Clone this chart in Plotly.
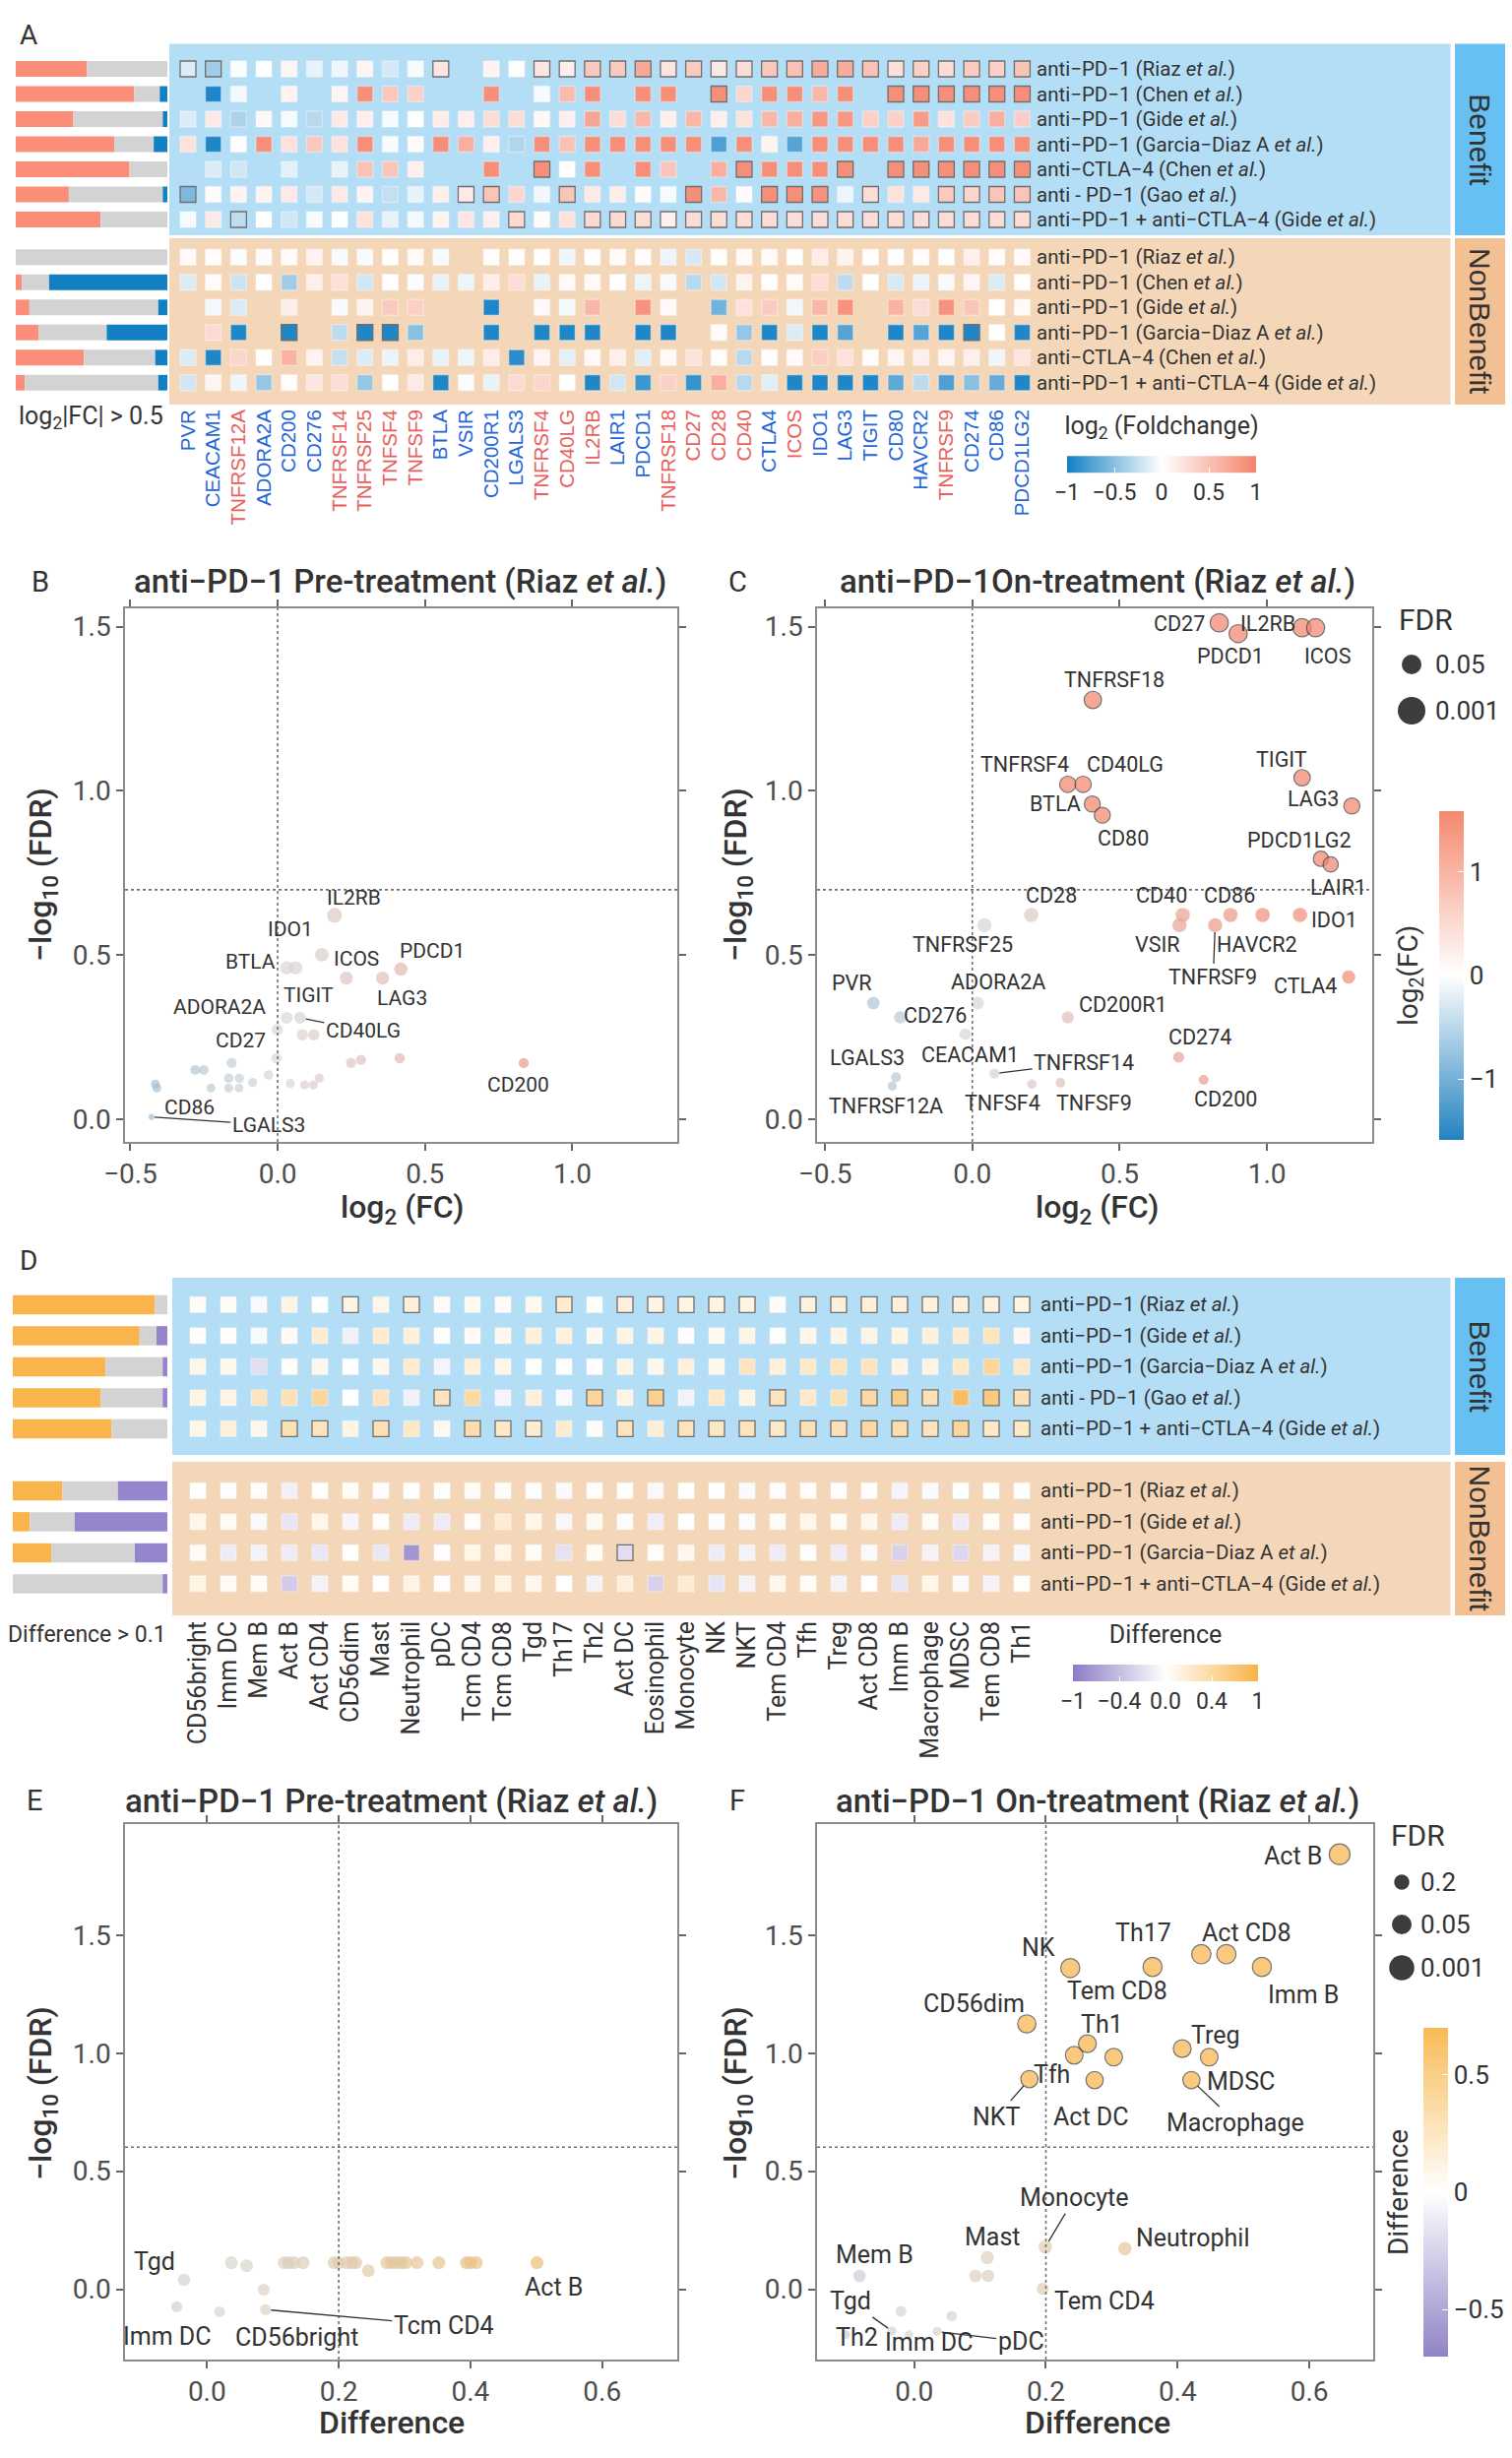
import numpy as np
import plotly.graph_objects as go

W, H = 1536, 2497
FONT = "Roboto"
INK = "#333333"
nan = float("nan")

# --------------------------------------------------
# Data : panel A (checkpoint genes, log2 fold change)
# --------------------------------------------------

genes = ["PVR", "CEACAM1", "TNFRSF12A", "ADORA2A", "CD200", "CD276", "TNFRSF14",
         "TNFRSF25", "TNFSF4", "TNFSF9", "BTLA", "VSIR", "CD200R1", "LGALS3",
         "TNFRSF4", "CD40LG", "IL2RB", "LAIR1", "PDCD1", "TNFRSF18", "CD27", "CD28",
         "CD40", "CTLA4", "ICOS", "IDO1", "LAG3", "TIGIT", "CD80", "HAVCR2",
         "TNFRSF9", "CD274", "CD86", "PDCD1LG2"]
stim_genes = ["TNFRSF12A", "TNFRSF14", "TNFRSF25", "TNFSF4", "TNFSF9", "TNFRSF4",
              "CD40LG", "IL2RB", "TNFRSF18", "CD27", "CD28", "CD40", "ICOS", "TNFRSF9"]

a_cohorts_benefit = ["anti−PD−1 (Riaz <i>et al.</i>)", "anti−PD−1 (Chen <i>et al.</i>)",
                     "anti−PD−1 (Gide <i>et al.</i>)", "anti−PD−1 (Garcia−Diaz A <i>et al.</i>)",
                     "anti−CTLA−4 (Chen <i>et al.</i>)", "anti - PD−1 (Gao <i>et al.</i>)",
                     "anti−PD−1 + anti−CTLA−4 (Gide <i>et al.</i>)"]
a_cohorts_nonbenefit = ["anti−PD−1 (Riaz <i>et al.</i>)", "anti−PD−1 (Chen <i>et al.</i>)",
                        "anti−PD−1 (Gide <i>et al.</i>)", "anti−PD−1 (Garcia−Diaz A <i>et al.</i>)",
                        "anti−CTLA−4 (Chen <i>et al.</i>)",
                        "anti−PD−1 + anti−CTLA−4 (Gide <i>et al.</i>)"]

a_fc_benefit = [
    [-0.15, -0.4, -0.02, 0.0, 0.08, -0.1, -0.07, 0.08, -0.18, -0.03, 0.2, nan, 0.1, 0.02, 0.2, 0.13, 0.45,
     0.43, 0.7, 0.22, 0.42, 0.18, 0.28, 0.45, 0.5, 0.68, 0.68, 0.5, 0.26, 0.38, 0.28, 0.42, 0.38, 0.48],
    [nan, -0.95, -0.05, nan, 0.1, nan, 0.08, 0.9, 0.45, 0.38, nan, nan, 0.9, nan, -0.03, 0.55, 0.9,
     nan, 0.9, 0.9, nan, 0.9, 0.33, 0.9, 0.9, 0.58, 0.9, nan, 0.9, 0.9, 0.9, 0.9, 0.9, 0.9],
    [-0.15, 0.17, -0.35, 0.06, -0.04, -0.3, 0.17, 0.13, -0.03, 0.01, 0.15, 0.13, 0.28, 0.28, 0.06, 0.13, 0.72,
     0.28, 0.58, 0.13, 0.58, 0.13, 0.24, 0.58, 0.65, 0.85, 0.85, 0.38, 0.38, 0.8, 0.24, 0.42, 0.65, 0.4],
    [0.24, -0.95, 0.02, 0.9, 0.24, 0.45, 0.24, 0.9, -0.03, 0.04, 0.9, 0.65, 0.13, -0.33, 0.9, 0.5, 0.9,
     0.9, 0.9, 0.9, 0.9, -0.75, 0.9, 0.1, -0.72, 0.9, 0.9, 0.9, 0.9, 0.7, 0.9, 0.9, 0.9, 0.9],
    [nan, -0.15, -0.2, nan, -0.12, nan, -0.1, 0.5, 0.47, 0.13, nan, nan, 0.9, nan, 0.9, 0.0, 0.9,
     nan, 0.9, 0.47, nan, 0.65, 0.9, 0.9, 0.9, 0.9, 0.9, nan, 0.9, 0.9, 0.9, 0.9, 0.9, 0.9],
    [-0.55, 0.03, 0.1, 0.1, 0.17, -0.18, 0.17, 0.1, -0.25, -0.1, 0.13, 0.17, 0.47, 0.33, -0.06, 0.47, 0.17,
     0.15, 0.03, -0.04, 0.9, 0.58, 0.03, 0.9, 0.9, 0.88, -0.07, 0.28, 0.24, 0.17, 0.43, 0.33, 0.47, 0.47],
    [-0.04, 0.17, -0.27, 0.0, -0.2, -0.03, 0.01, 0.24, -0.1, -0.05, 0.1, 0.2, 0.13, 0.3, 0.03, 0.24, 0.3,
     0.3, 0.28, 0.13, 0.28, 0.28, 0.28, 0.28, 0.28, 0.28, 0.28, 0.28, 0.28, 0.28, 0.28, 0.28, 0.28, 0.28],
]
a_fc_nonbenefit = [
    [0.05, 0.02, -0.02, -0.02, 0.03, 0.1, -0.03, -0.03, 0.01, 0.05, -0.03, nan, 0.02, 0.02, 0.0, -0.07,
     0.01, 0.03, 0.02, -0.08, -0.18, 0.01, 0.04, 0.05, 0.0, 0.15, 0.1, 0.01, 0.01, 0.02, 0.01, 0.13, 0.02, 0.04],
    [-0.15, 0.03, -0.22, 0.0, -0.4, 0.13, 0.26, -0.2, 0.0, -0.02, -0.1, -0.08, 0.14, 0.28, -0.1, 0.04,
     0.04, 0.0, -0.08, -0.04, -0.3, -0.2, 0.1, 0.0, 0.05, 0.28, -0.28, 0.0, -0.17, -0.09, -0.03, 0.08, -0.15, 0.0],
    [nan, -0.05, -0.15, nan, 0.14, nan, -0.03, 0.1, 0.43, 0.38, nan, nan, -0.95, nan, 0.04, -0.05, 0.58,
     nan, 0.88, 0.05, nan, -0.6, 0.24, 0.42, -0.06, 0.58, 0.88, nan, 0.62, 0.28, 0.88, 0.47, 0.0, 0.05],
    [nan, 0.3, -0.95, nan, -0.95, nan, -0.28, -0.95, -0.95, -0.5, nan, nan, -0.95, nan, -0.95, -0.95, -0.95,
     nan, -0.95, -0.95, nan, 0.04, -0.45, -0.95, -0.15, -0.95, -0.72, nan, -0.95, -0.72, -0.95, -0.95, 0.0, -0.95],
    [-0.15, -0.95, 0.33, 0.0, 0.62, 0.1, -0.25, -0.15, -0.09, 0.15, -0.1, -0.08, 0.15, -0.9, 0.08, -0.12, 0.04,
     0.13, -0.13, 0.04, 0.24, 0.02, -0.3, 0.01, 0.04, 0.4, 0.24, 0.02, 0.08, 0.13, 0.08, 0.13, -0.07, 0.22],
    [-0.2, 0.08, -0.07, -0.45, 0.02, 0.2, 0.28, -0.45, 0.0, 0.17, -0.95, -0.02, -0.1, 0.3, 0.33, 0.0, -0.95,
     -0.2, -0.82, 0.38, -0.85, 0.65, -0.3, -0.13, -0.95, -0.95, -0.95, -0.95, -0.68, -0.28, -0.75, -0.5, -0.65, -0.95],
]
# significant cells (1-based gene columns, drawn with a border)
a_sig_benefit = [[1, 2, 11] + list(range(15, 35)), [22] + list(range(29, 35)), [], [],
                 [15, 23, 27] + list(range(29, 35)),
                 [1, 12, 13, 16, 21, 24, 25, 26, 28, 31, 32, 33, 34], [3, 14] + list(range(17, 35))]
a_sig_nonbenefit = [[], [], [], [5, 8, 9, 32], [], []]

# share of genes with log2|FC| > 0.5 (up / down)
a_up_benefit = [0.47, 0.78, 0.38, 0.65, 0.75, 0.35, 0.56]
a_down_benefit = [0.0, 0.05, 0.03, 0.09, 0.0, 0.03, 0.0]
a_up_nonbenefit = [0.0, 0.04, 0.09, 0.15, 0.45, 0.06]
a_down_nonbenefit = [0.0, 0.78, 0.06, 0.40, 0.08, 0.06]

# --------------------------------------------------
# Data : panels B / C (volcano, genes)
# --------------------------------------------------

b_genes = ["IL2RB", "ICOS", "BTLA", "IDO1", "TNFRSF18", "LAG3", "PDCD1", "TIGIT", "CD40LG",
           "ADORA2A", "CD28", "CTLA4", "CD27", "CD40", "TNFRSF4", "TNFRSF9", "HAVCR2", "CD200",
           "PVR", "CD276", "CEACAM1", "TNFRSF12A", "VSIR", "CD200R1", "TNFRSF14", "TNFSF4",
           "TNFSF9", "LAIR1", "CD274", "CD86", "CD80", "PDCD1LG2", "TNFRSF25", "LGALS3"]
b_fc = [0.193, 0.15, 0.031, 0.061, 0.233, 0.356, 0.418, 0.031, 0.076, -0.001, 0.084, 0.123,
        -0.156, -0.004, 0.249, 0.283, 0.414, 0.835, -0.28, -0.251, -0.166, -0.13, -0.085,
        -0.031, 0.141, 0.043, 0.091, 0.121, -0.415, -0.41, -0.226, -0.166, -0.131, -0.428]
b_logfdr = [0.621, 0.501, 0.461, 0.461, 0.43, 0.43, 0.457, 0.309, 0.309, 0.273, 0.257, 0.257,
            0.172, 0.186, 0.172, 0.181, 0.186, 0.171, 0.15, 0.15, 0.125, 0.125, 0.112, 0.135,
            0.125, 0.109, 0.104, 0.104, 0.107, 0.095, 0.095, 0.095, 0.095, 0.007]

c_genes = ["CD27", "PDCD1", "IL2RB", "ICOS", "TNFRSF18", "TNFRSF4", "CD40LG", "BTLA", "CD80",
           "TIGIT", "LAG3", "PDCD1LG2", "LAIR1", "CD28", "TNFRSF25", "CD40", "VSIR", "TNFRSF9",
           "CD86", "HAVCR2", "IDO1", "CTLA4", "PVR", "CD276", "ADORA2A", "CD200R1", "CEACAM1",
           "CD274", "TNFRSF14", "LGALS3", "TNFRSF12A", "TNFSF4", "TNFSF9", "CD200"]
c_fc = [0.838, 0.902, 1.119, 1.165, 0.409, 0.324, 0.376, 0.407, 0.441, 1.119, 1.288, 1.183,
        1.216, 0.2, 0.041, 0.714, 0.703, 0.824, 0.876, 0.985, 1.112, 1.277, -0.336, -0.245,
        0.018, 0.324, -0.024, 0.7, 0.075, -0.259, -0.272, 0.202, 0.299, 0.785]
c_logfdr = [1.512, 1.479, 1.497, 1.497, 1.277, 1.02, 1.02, 0.96, 0.926, 1.04, 0.954, 0.793,
            0.776, 0.622, 0.591, 0.622, 0.591, 0.591, 0.622, 0.622, 0.622, 0.433, 0.354, 0.31,
            0.354, 0.31, 0.259, 0.189, 0.139, 0.128, 0.101, 0.107, 0.111, 0.12]

# --------------------------------------------------
# Data : panel D (immune cell types, difference)
# --------------------------------------------------

cells = ["CD56bright", "Imm DC", "Mem B", "Act B", "Act CD4", "CD56dim", "Mast", "Neutrophil",
         "pDC", "Tcm CD4", "Tcm CD8", "Tgd", "Th17", "Th2", "Act DC", "Eosinophil", "Monocyte",
         "NK", "NKT", "Tem CD4", "Tfh", "Treg", "Act CD8", "Imm B", "Macrophage", "MDSC",
         "Tem CD8", "Th1"]
d_cohorts_benefit = ["anti−PD−1 (Riaz <i>et al.</i>)", "anti−PD−1 (Gide <i>et al.</i>)",
                     "anti−PD−1 (Garcia−Diaz A <i>et al.</i>)", "anti - PD−1 (Gao <i>et al.</i>)",
                     "anti−PD−1 + anti−CTLA−4 (Gide <i>et al.</i>)"]
d_cohorts_nonbenefit = ["anti−PD−1 (Riaz <i>et al.</i>)", "anti−PD−1 (Gide <i>et al.</i>)",
                        "anti−PD−1 (Garcia−Diaz A <i>et al.</i>)",
                        "anti−PD−1 + anti−CTLA−4 (Gide <i>et al.</i>)"]
d_diff_benefit = [
    [0.05, 0.05, -0.05, 0.15, 0.0, 0.15, 0.12, 0.2, 0.05, 0.08, 0.05, 0.08, 0.25, 0.02, 0.2, 0.15,
     0.15, 0.15, 0.15, 0.05, 0.18, 0.2, 0.2, 0.2, 0.2, 0.2, 0.18, 0.15],
    [0.03, 0.02, -0.05, 0.07, 0.25, -0.12, 0.25, 0.2, 0.03, 0.06, 0.1, 0.2, 0.18, 0.1, 0.15, 0.15,
     0.02, 0.08, 0.15, 0.02, 0.12, 0.15, 0.15, 0.15, 0.2, 0.25, 0.35, 0.1],
    [0.12, 0.1, -0.25, 0.03, 0.1, 0.0, 0.1, 0.25, -0.08, 0.2, 0.12, 0.01, 0.03, 0.01, 0.15, 0.1,
     0.2, 0.1, 0.35, 0.2, 0.3, 0.35, 0.35, 0.15, 0.15, 0.3, 0.55, 0.3],
    [0.15, 0.15, 0.35, 0.4, 0.55, 0.0, 0.35, -0.12, 0.35, 0.5, -0.08, 0.2, -0.05, 0.55, 0.15, 0.6,
     -0.1, 0.3, 0.15, 0.35, 0.3, 0.4, 0.5, 0.65, 0.4, 0.85, 0.7, 0.4],
    [0.12, 0.2, 0.1, 0.4, 0.35, 0.15, 0.4, 0.3, 0.08, 0.45, 0.3, 0.25, 0.25, 0.05, 0.35, 0.22,
     0.35, 0.3, 0.35, 0.3, 0.4, 0.4, 0.5, 0.45, 0.35, 0.55, 0.3, 0.3],
]
d_diff_nonbenefit = [
    [0.0, -0.02, 0.02, -0.12, 0.0, 0.04, -0.02, 0.0, -0.01, 0.04, 0.04, -0.02, -0.04, 0.02, -0.01, -0.05,
     0.0, 0.0, -0.04, -0.02, 0.03, -0.01, -0.01, -0.08, -0.04, 0.0, 0.0, -0.01],
    [0.12, 0.07, -0.05, -0.2, 0.12, -0.08, 0.02, -0.15, -0.15, 0.03, 0.25, 0.12, -0.07, 0.08, -0.03, -0.14,
     0.0, -0.03, -0.03, 0.05, 0.12, 0.05, 0.1, -0.15, 0.05, -0.15, 0.03, 0.02],
    [0.05, -0.15, -0.1, -0.15, -0.18, 0.0, -0.18, -0.8, 0.0, 0.12, 0.12, 0.05, -0.22, 0.04, -0.25, 0.03,
     0.1, -0.15, -0.1, -0.15, -0.02, -0.15, -0.05, -0.35, -0.1, -0.3, -0.1, -0.07],
    [0.15, 0.06, 0.04, -0.4, -0.1, 0.05, 0.0, 0.15, 0.02, 0.1, 0.15, 0.1, 0.0, -0.1, 0.2, -0.35,
     0.25, -0.2, -0.1, 0.1, 0.04, -0.1, 0.0, -0.2, 0.12, -0.04, -0.1, 0.02],
]
d_sig_benefit = [[6, 8, 13, 15, 16, 17, 18, 19] + list(range(21, 29)), [], [],
                 [9, 14, 16, 20, 23, 24, 25, 27, 28], [4, 5, 7, 10, 11, 12, 15] + list(range(17, 29))]
d_sig_nonbenefit = [[], [], [15], []]

# share of cell types with difference > 0.1 (up / down)
d_up_benefit = [0.92, 0.82, 0.6, 0.57, 0.64]
d_down_benefit = [0.0, 0.07, 0.03, 0.03, 0.0]
d_up_nonbenefit = [0.32, 0.11, 0.25, 0.0]
d_down_nonbenefit = [0.32, 0.6, 0.21, 0.03]

# --------------------------------------------------
# Data : panels E / F (volcano, cell types)
# --------------------------------------------------

e_cells = ["Act B", "Tgd", "Imm DC", "CD56bright", "Tcm CD4", "Mem B", "Th2", "pDC", "Mast",
           "Eosinophil", "Tcm CD8", "Neutrophil", "CD56dim", "NKT", "Monocyte", "Tem CD4", "Act DC",
           "Tfh", "NK", "Th1", "Treg", "Act CD4", "Th17", "Tem CD8", "Macrophage", "MDSC", "Imm B",
           "Act CD8"]
e_diff = [0.501, -0.035, -0.046, 0.019, 0.089, 0.037, 0.06, 0.086, 0.117, 0.124, 0.132, 0.146,
          0.193, 0.2, 0.212, 0.22, 0.226, 0.245, 0.273, 0.28, 0.287, 0.295, 0.302, 0.319, 0.352,
          0.394, 0.4, 0.409]
e_logfdr = [0.113, 0.04, -0.074, -0.095, -0.086, 0.113, 0.1, -0.002, 0.113, 0.113, 0.113, 0.113,
            0.113, 0.113, 0.113, 0.113, 0.113, 0.079, 0.113, 0.113, 0.113, 0.113, 0.113, 0.113,
            0.113, 0.113, 0.113, 0.113]

f_cells = ["Act B", "NK", "Tem CD8", "Th17", "Act CD8", "Imm B", "CD56dim", "Th1", "Tfh", "Act CD4",
           "Treg", "MDSC", "NKT", "Act DC", "Macrophage", "Monocyte", "Neutrophil", "Mast",
           "Tcm CD4", "Tcm CD8", "Mem B", "Tem CD4", "CD56bright", "Eosinophil", "Tgd", "Th2",
           "Imm DC", "pDC"]
f_diff = [0.646, 0.237, 0.362, 0.436, 0.474, 0.528, 0.171, 0.263, 0.243, 0.303, 0.407, 0.448,
          0.175, 0.274, 0.421, 0.199, 0.32, 0.111, 0.093, 0.112, -0.083, 0.195, -0.02, 0.057,
          -0.034, -0.104, -0.008, 0.035]
f_logfdr = [1.842, 1.36, 1.365, 1.419, 1.419, 1.365, 1.124, 1.04, 0.991, 0.983, 1.019, 0.983,
            0.89, 0.886, 0.886, 0.179, 0.172, 0.134, 0.057, 0.057, 0.057, 0.002, -0.093, -0.113,
            -0.176, -0.192, -0.192, -0.179]

# label placement: name -> (dx px, dy px, leader line)
b_labels = {"IL2RB": (20, -18, False), "IDO1": (-5, -39, False), "BTLA": (-37, -6, False),
            "ICOS": (35, 4, False), "PDCD1": (32, -19, False), "TIGIT": (22, -23, False),
            "LAG3": (20, 20, False), "ADORA2A": (-59, -23, False), "CD40LG": (64, 13, True),
            "CD27": (9, -23, False), "CD200": (-6, 22, False), "CD86": (33, 20, False),
            "LGALS3": (119, 8, True)}
c_labels = {"CD27": (-41, 1, False), "IL2RB": (-35, -4, False), "PDCD1": (-8, 23, False),
            "ICOS": (12, 29, False), "TNFRSF18": (22, -21, False), "TNFRSF4": (-44, -20, False),
            "CD40LG": (43, -20, False), "BTLA": (-38, 0, False), "CD80": (21, 23, False),
            "TIGIT": (-21, -19, False), "LAG3": (-39, -7, False), "PDCD1LG2": (-22, -19, False),
            "LAIR1": (8, 23, False), "CD28": (20, -20, False), "TNFRSF25": (-22, 20, False),
            "CD40": (-22, -20, False), "VSIR": (-22, 20, False), "CD86": (-1, -20, False),
            "HAVCR2": (-6, 30, False), "IDO1": (35, 5, False), "TNFRSF9": (-2, 53, True),
            "CTLA4": (-44, 9, False), "PVR": (-22, -20, False), "CD276": (36, -2, False),
            "ADORA2A": (21, -21, False), "CD200R1": (56, -13, False), "CEACAM1": (5, 21, False),
            "CD274": (22, -20, False), "TNFRSF14": (91, -11, True), "LGALS3": (-29, -20, False),
            "TNFRSF12A": (-6, 20, False), "TNFSF4": (-30, 19, False), "TNFSF9": (34, 21, False),
            "CD200": (22, 20, False)}
e_labels = {"Tgd": (-30, -19, False), "Act B": (17, 25, False), "Imm DC": (-10, 30, False),
            "CD56bright": (78, 26, False), "Tcm CD4": (181, 16, True)}
f_labels = {"Act B": (-47, 2, False), "NK": (-32, -21, False), "Th17": (-59, -22, False),
            "Act CD8": (21, -22, False), "Imm B": (42, 28, False), "Tem CD8": (-36, 24, False),
            "CD56dim": (-54, -20, False), "Th1": (15, -20, False), "Tfh": (-23, 20, False),
            "NKT": (-33, 38, True), "Act DC": (-4, 37, False), "Treg": (34, -14, False),
            "MDSC": (32, 25, False), "Macrophage": (45, 43, True), "Monocyte": (30, -50, True),
            "Neutrophil": (69, -11, False), "Mast": (6, -21, False), "Mem B": (15, -21, False),
            "Tem CD4": (63, 12, False), "Tgd": (-42, -30, True), "Th2": (11, 3, False),
            "Imm DC": (21, 8, False), "pDC": (85, 10, True)}

# --------------------------------------------------
# Colours
# --------------------------------------------------

FC_SCALE = [[0, "#1380c4"], [0.5, "#ffffff"], [1, "#f5836b"]]
FC_BAR = [[0, "#2482c0"], [0.5, "#ffffff"], [1, "#f5896f"]]
FC_MUTED = [[0, "#5d9bc6"], [0.5, "#d8d8d8"], [1, "#ee8c78"]]
DIFF_SCALE = [[0, "#8c7bc6"], [0.5, "#ffffff"], [1, "#f8b348"]]
DIFF_BAR = [[0, "#9183c6"], [0.5, "#ffffff"], [1, "#f8bb55"]]
DIFF_MUTED = [[0, "#9a8ccc"], [0.5, "#d6d6d6"], [1, "#f6b34c"]]
BLUE_BG, BLUE_STRIP = "#b3def6", "#66c0f1"
PEACH_BG, PEACH_STRIP = "#f4d6b8", "#f2c092"


def px(x, y):
    return x / W, 1 - y / H


fig = go.Figure()
layout_axes = {}
shapes = []
anns = []


def add_axes(n, x0, x1, y0, y1, xr, yr, xkw=None, ykw=None):
    s = "" if n == 1 else str(n)
    layout_axes["xaxis" + s] = dict(domain=[x0 / W, x1 / W], range=xr, anchor="y" + s, **(xkw or {}))
    layout_axes["yaxis" + s] = dict(domain=[1 - y1 / H, 1 - y0 / H], range=yr, anchor="x" + s, **(ykw or {}))


def text(x, y, t, size, color=INK, angle=0, anchor="center", family=FONT, weight=None):
    fx, fy = px(x, y)
    f = dict(family=family, size=size, color=color)
    if weight:
        f["weight"] = weight
    anns.append(dict(x=fx, y=fy, xref="paper", yref="paper", text=t, showarrow=False,
                     textangle=angle, xanchor=anchor, yanchor="middle", font=f))


def rect(x0, y0, x1, y1, color):
    a, b = px(x0, y0)
    c, d = px(x1, y1)
    shapes.append(dict(type="rect", xref="paper", yref="paper", x0=a, y0=d, x1=c, y1=b,
                       fillcolor=color, line=dict(width=0), layer="below"))


def dot(cx, cy, d):
    a, b = px(cx, cy)
    shapes.append(dict(type="circle", xref="paper", yref="paper", xsizemode="pixel",
                       ysizemode="pixel", xanchor=a, yanchor=b, x0=-d / 2, x1=d / 2,
                       y0=-d / 2, y1=d / 2, fillcolor="#3d3d3d", line=dict(width=0)))


HIDDEN = dict(visible=False)


# --------------------------------------------------
# Heatmap blocks (A and D)
# --------------------------------------------------

def heat_block(n_bar, n_heat, values, sig, units, labels, scale, bar_up, bar_down,
               bar_cols, row_x, colorbar):
    xs, ys, cs, lc = [], [], [], []
    for r, row in enumerate(values):
        for c, v in enumerate(row):
            if np.isnan(v):
                continue
            xs.append(c)
            ys.append(units[r])
            cs.append(v)
            lc.append("#6f6f6f" if (c + 1) in sig[r] else "rgba(255,255,255,0.35)")
    xa, ya = "x" + str(n_heat), "y" + str(n_heat)
    fig.add_trace(go.Scatter(
        x=xs, y=ys, mode="markers", xaxis=xa, yaxis=ya, hoverinfo="skip", showlegend=False,
        marker=dict(symbol="square", size=16, color=cs, colorscale=scale, cmin=-1, cmax=1,
                    line=dict(color=lc, width=1.3), showscale=True, colorbar=colorbar)))
    for u, lab in zip(units, labels):
        anns.append(dict(x=row_x, y=u, xref=xa, yref=ya, text=lab, showarrow=False,
                         xanchor="left", yanchor="middle",
                         font=dict(family=FONT, size=20.5, color=INK)))
    # proportion bars
    rest = [1 - a - b for a, b in zip(bar_up, bar_down)]
    xb, yb = "x" + str(n_bar), "y" + str(n_bar)
    for widths, base, col in [(bar_up, [0] * len(units), bar_cols[0]),
                              (rest, bar_up, bar_cols[1]),
                              (bar_down, [1 - d for d in bar_down], bar_cols[2])]:
        fig.add_trace(go.Bar(x=widths, y=units, base=base, orientation="h", width=0.62,
                             marker=dict(color=col, line=dict(width=0)), xaxis=xb, yaxis=yb,
                             hoverinfo="skip", showlegend=False))


def col_ticks(names, colors, family, size, color=INK):
    ticktext = [f'<span style="color:{c}">{n}</span>' for n, c in zip(names, colors)]
    return dict(showgrid=False, zeroline=False, showline=False, ticks="", tickmode="array",
                tickvals=list(range(len(names))), ticktext=ticktext, tickangle=-90,
                tickfont=dict(family=family, size=size, color=color), fixedrange=True)


# ---- Panel A ----
a_units = list(range(7)) + [7.5 + i for i in range(6)]
a_yr = [(411 - 70) / 25.5, (44.6 - 70) / 25.5]
a_xr = [(172 - 191) / 25.68, (1529 - 191) / 25.68]
gene_colors = ["#e8605c" if g in stim_genes else "#2466d8" for g in genes]
add_axes(1, 16, 170, 44.6, 411, [0, 1], a_yr, HIDDEN, HIDDEN)
add_axes(2, 172, 1529, 44.6, 411, a_xr, a_yr,
         col_ticks(genes, gene_colors, "Liberation Sans", 20.5), HIDDEN)
rect(172, 44.6, 1473.5, 239, BLUE_BG)
rect(1478, 44.6, 1529, 239, BLUE_STRIP)
rect(172, 242, 1473.5, 411, PEACH_BG)
rect(1478, 242, 1529, 411, PEACH_STRIP)
cx, cy = px(1180, 431)
heat_block(1, 2, a_fc_benefit + a_fc_nonbenefit, a_sig_benefit + a_sig_nonbenefit, a_units,
           a_cohorts_benefit + a_cohorts_nonbenefit, FC_SCALE,
           a_up_benefit + a_up_nonbenefit, a_down_benefit + a_down_nonbenefit,
           ["#fa8e78", "#d3d3d3", "#1380c4"], (1051 - 191) / 25.68,
           dict(orientation="h", x=cx, xanchor="center", y=cy, yanchor="top", len=192,
                lenmode="pixels", thickness=17, xpad=0, ypad=0, outlinewidth=0,
                title=dict(text="log<sub>2</sub> (Foldchange)", side="top",
                           font=dict(family=FONT, size=25, color=INK)),
                tickvals=[-1, -0.5, 0, 0.5, 1], ticktext=["−1", "−0.5", "0", "0.5", "1"],
                ticks="inside", ticklen=5, tickcolor="white",
                tickfont=dict(family=FONT, size=23, color=INK)))
text(1503.5, 141.8, "Benefit", 30, angle=90, family="Liberation Sans")
text(1503.5, 326.5, "NonBenefit", 30, angle=90, family="Liberation Sans")
text(92, 424, "log<sub>2</sub>|FC| > 0.5", 25)
text(29, 36, "A", 28)

# ---- Panel D ----
d_units = list(range(5)) + [6 + i for i in range(4)]
d_yr = [(1641 - 1325.4) / 31.5, (1298 - 1325.4) / 31.5]
d_xr = [(175 - 201) / 31.0, (1529 - 201) / 31.0]
add_axes(5, 13, 170, 1298, 1641, [0, 1], d_yr, HIDDEN, HIDDEN)
add_axes(6, 175, 1529, 1298, 1641, d_xr, d_yr,
         col_ticks(cells, [INK] * len(cells), FONT, 25), HIDDEN)
rect(175, 1298, 1473.5, 1478, BLUE_BG)
rect(1478, 1298, 1529, 1478, BLUE_STRIP)
rect(175, 1485, 1473.5, 1641, PEACH_BG)
rect(1478, 1485, 1529, 1641, PEACH_STRIP)
cx, cy = px(1184, 1662)
heat_block(5, 6, d_diff_benefit + d_diff_nonbenefit, d_sig_benefit + d_sig_nonbenefit, d_units,
           d_cohorts_benefit + d_cohorts_nonbenefit, DIFF_SCALE,
           d_up_benefit + d_up_nonbenefit, d_down_benefit + d_down_nonbenefit,
           ["#f9b44b", "#d3d3d3", "#9585cc"], (1054.6 - 201) / 31.0,
           dict(orientation="h", x=cx, xanchor="center", y=cy, yanchor="top", len=188,
                lenmode="pixels", thickness=17, xpad=0, ypad=0, outlinewidth=0,
                title=dict(text="Difference", side="top",
                           font=dict(family=FONT, size=25, color=INK)),
                tickvals=[-1, -0.5, 0, 0.5, 1], ticktext=["−1", "−0.4", "0.0", "0.4", "1"],
                ticks="inside", ticklen=5, tickcolor="white",
                tickfont=dict(family=FONT, size=23, color=INK)))
text(1503.5, 1388, "Benefit", 30, angle=90, family="Liberation Sans")
text(1503.5, 1563, "NonBenefit", 30, angle=90, family="Liberation Sans")
text(88, 1660, "Difference > 0.1", 23)
text(29, 1280, "D", 28)


# --------------------------------------------------
# Volcano panels (B, C, E, F)
# --------------------------------------------------

def frame(tickvals, ticktext):
    return dict(showline=True, mirror="ticks", linecolor="#8c8c8c", linewidth=1.5,
                showgrid=False, zeroline=False, ticks="outside", ticklen=7, tickwidth=1.5,
                tickcolor="#666666", tickmode="array", tickvals=tickvals, ticktext=ticktext,
                tickfont=dict(family=FONT, size=28, color="#4d4d4d"), fixedrange=True)


def volcano(n, names, xv, yv, thr, muted, mrange, strong, size_of, labels, fsize, vline, hline):
    xa, ya = "x" + str(n), "y" + str(n)
    xv, yv = np.array(xv), np.array(yv)
    sizes = size_of(yv)
    sig = yv > thr
    fig.add_trace(go.Scatter(
        x=xv[~sig], y=yv[~sig], mode="markers", xaxis=xa, yaxis=ya, showlegend=False,
        text=[nm for nm, s in zip(names, sig) if not s], hoverinfo="text",
        marker=dict(size=sizes[~sig], color=xv[~sig], colorscale=muted, cmin=-mrange,
                    cmax=mrange, line=dict(width=0))))
    if sig.any():
        fig.add_trace(go.Scatter(
            x=xv[sig], y=yv[sig], mode="markers", xaxis=xa, yaxis=ya, showlegend=False,
            text=[nm for nm, s in zip(names, sig) if s], hoverinfo="text",
            marker=dict(size=sizes[sig], color=xv[sig], colorscale=strong, cmin=-0.15,
                        cmax=0.15, line=dict(color="#3a3a3a", width=1.2))))
    idx = {nm: i for i, nm in enumerate(names)}
    for nm, (dx, dy, lead) in labels.items():
        i = idx[nm]
        anns.append(dict(x=float(xv[i]), y=float(yv[i]), xref=xa, yref=ya, text=nm,
                         showarrow=True, ax=dx, ay=dy, arrowhead=0, arrowwidth=1.3,
                         arrowcolor=INK if lead else "rgba(0,0,0,0)",
                         standoff=float(sizes[i]) / 2 if lead else 0,
                         font=dict(family=FONT, size=fsize, color=INK)))
    line = dict(color="#707070", width=1.6, dash="dot")
    shapes.append(dict(type="line", xref=xa, yref=ya + " domain", x0=vline, x1=vline, y0=0, y1=1, line=line))
    shapes.append(dict(type="line", xref=xa + " domain", yref=ya, x0=0, x1=1, y0=hline, y1=hline, line=line))


bc_x = frame([-0.5, 0, 0.5, 1.0], ["−0.5", "0.0", "0.5", "1.0"])
bc_y = frame([0, 0.5, 1.0, 1.5], ["0.0", "0.5", "1.0", "1.5"])
ef_x = frame([0, 0.2, 0.4, 0.6], ["0.0", "0.2", "0.4", "0.6"])
ef_y = frame([0, 0.5, 1.0, 1.5], ["0.0", "0.5", "1.0", "1.5"])
bc_yr = [-0.069, 1.556]
ef_yr = [-0.2975, 1.97]

add_axes(3, 127, 688, 618, 1160, [-0.518, 1.356], bc_yr, bc_x, bc_y)
add_axes(4, 830, 1394, 618, 1160, [-0.527, 1.357], bc_yr, bc_x, bc_y)
add_axes(7, 127, 688, 1853, 2397, [-0.1245, 0.714], ef_yr, ef_x, ef_y)
add_axes(8, 830, 1395, 1853, 2397, [-0.1475, 0.697], ef_yr, ef_x, ef_y)

volcano(3, b_genes, b_fc, b_logfdr, 0.699, FC_MUTED, 1.0, FC_SCALE,
        lambda y: 5 + 10 * np.sqrt(np.clip(y, 0, None) / 0.62), b_labels, 21, 0, 0.699)
volcano(4, c_genes, c_fc, c_logfdr, 0.699, FC_MUTED, 1.0, FC_SCALE,
        lambda y: 8.5 + 10 * np.sqrt(np.clip(y - 0.09, 0, None) / 1.42), c_labels, 21.5, 0, 0.699)
volcano(7, e_cells, e_diff, e_logfdr, 0.602, DIFF_MUTED, 0.7, DIFF_SCALE,
        lambda y: 8 + 13 * np.sqrt(np.clip(y + 0.2, 0, None) / 2.04), e_labels, 25, 0.2, 0.602)
volcano(8, f_cells, f_diff, f_logfdr, 0.602, DIFF_MUTED, 0.7, DIFF_SCALE,
        lambda y: 8 + 13 * np.sqrt(np.clip(y + 0.2, 0, None) / 2.04), f_labels, 25, 0.2, 0.602)

# colour bars for C and F
for xa, ya, scale, rng, xpx, ypx, vals, txt in [
        ("x4", "y4", FC_BAR, 1.59, 1462, 824, [-1, 0, 1], ["−1", "0", "1"]),
        ("x8", "y8", DIFF_BAR, 0.7, 1446, 2060, [-0.5, 0, 0.5], ["−0.5", "0", "0.5"])]:
    bx, by = px(xpx, ypx)
    fig.add_trace(go.Scatter(
        x=[None], y=[None], mode="markers", xaxis=xa, yaxis=ya, showlegend=False, hoverinfo="skip",
        marker=dict(color=[0], colorscale=scale, cmin=-rng, cmax=rng, showscale=True,
                    colorbar=dict(x=bx, xanchor="left", y=by, yanchor="top", len=334,
                                  lenmode="pixels", thickness=25, xpad=0, ypad=0,
                                  outlinewidth=0, tickvals=vals, ticktext=txt, ticks="inside",
                                  ticklen=6, tickcolor="white",
                                  tickfont=dict(family=FONT, size=26, color=INK)))))

# size legends
text(1419, 629, "FDR", 30, anchor="left")
dot(1434, 675, 20)
dot(1434, 722, 28)
text(1456, 675, "0.05", 26, anchor="left")
text(1456, 722, "0.001", 26, anchor="left")
text(1411, 1864, "FDR", 30, anchor="left")
dot(1424, 1912, 15.5)
dot(1424, 1955, 20)
dot(1424, 1999, 25.6)
text(1441, 1912, "0.2", 26, anchor="left")
text(1441, 1955, "0.05", 26, anchor="left")
text(1441, 1999, "0.001", 26, anchor="left")
text(1432, 991, "log<sub>2</sub>(FC)", 28, angle=-90)
text(1420, 2227, "Difference", 28, angle=-90)

# titles, letters, axis titles
text(406, 591, "anti−PD−1 Pre-treatment (Riaz <i>et al.</i>)", 33, weight=500)
text(1115, 591, "anti−PD−1On-treatment (Riaz <i>et al.</i>)", 33, weight=500)
text(397, 1829, "anti−PD−1 Pre-treatment (Riaz <i>et al.</i>)", 33, weight=500)
text(1115, 1829, "anti−PD−1 On-treatment (Riaz <i>et al.</i>)", 33, weight=500)
text(41, 591, "B", 29)
text(749, 591, "C", 29)
text(35, 1829, "E", 29)
text(749, 1829, "F", 29)
for xc, yc, t in [(409, 1228, "log<sub>2</sub> (FC)"), (1115, 1228, "log<sub>2</sub> (FC)"),
                  (398, 2461, "Difference"), (1115, 2461, "Difference")]:
    text(xc, yc, t, 32, weight=500)
for xc, yc in [(43, 889), (749, 889), (43, 2127), (749, 2127)]:
    text(xc, yc, "−log<sub>10</sub> (FDR)", 32, angle=-90, weight=500)

fig.update_layout(
    width=W, height=H, margin=dict(l=0, r=0, t=0, b=0, pad=0, autoexpand=False),
    paper_bgcolor="white", plot_bgcolor="white", barmode="overlay", showlegend=False,
    font=dict(family=FONT, color=INK), shapes=shapes, annotations=anns, **layout_axes)

fig.write_html("out.html", config={"displayModeBar": False},
               post_script="document.body.style.margin='0';document.body.style.overflow='hidden';")
